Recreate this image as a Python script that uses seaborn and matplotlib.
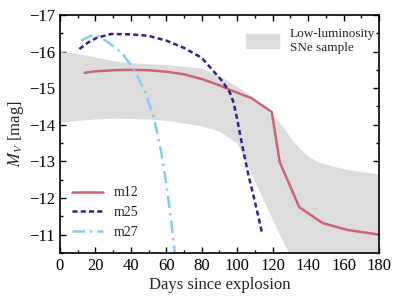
import numpy as np
import pandas as pd
import matplotlib
matplotlib.use("Agg")
import matplotlib.pyplot as plt
import seaborn as sns
from matplotlib.patches import Patch
from matplotlib.ticker import MultipleLocator

# light curves
m12_days = [14, 20, 30, 40, 50, 60, 70, 80, 90, 96, 108, 119.5, 124, 135, 148, 162, 180]
m12_mag = [-15.42, -15.46, -15.49, -15.5, -15.49, -15.45, -15.38, -15.25, -15.08, -14.95,
           -14.73, -14.35, -12.98, -11.75, -11.32, -11.13, -11.0]

m25_days = [11, 16, 21, 29, 40, 50, 60, 70, 80, 86, 92, 96, 98, 100, 103, 106, 110, 114]
m25_mag = [-16.07, -16.25, -16.38, -16.48, -16.47, -16.43, -16.3, -16.1, -15.83, -15.5,
           -15.17, -14.87, -14.6, -14.15, -13.4, -12.7, -11.9, -11.05]

m27_days = [12, 16, 20, 27, 35, 42, 48, 53, 57, 60, 63, 65]
m27_mag = [-16.3, -16.4, -16.47, -16.26, -15.96, -15.5, -14.9, -14.2, -13.3, -12.4, -11.3, -10.4]

# low-luminosity SNe band
band_days = [0, 10, 20, 30, 40, 50, 60, 70, 80, 90, 100, 106, 113, 120, 125, 130, 135, 140,
             145, 150, 160, 170, 180]
band_upper = [-16.0, -15.95, -15.85, -15.75, -15.7, -15.67, -15.64, -15.6, -15.55, -15.33,
              -15.05, -14.85, -14.55, -14.25, -14.0, -13.65, -13.36, -13.14, -13.0, -12.92,
              -12.8, -12.72, -12.66]
band_lower = [-14.05, -14.12, -14.16, -14.18, -14.17, -14.16, -14.12, -14.05, -13.97, -13.82,
              -13.5, -12.85, -12.14, -11.4, -10.9, -10.4, -10.0, -9.6, -9.5, -9.5, -9.5, -9.5, -9.5]

sns.set_style("ticks")
plt.rcParams["font.family"] = ["Liberation Serif", "DejaVu Serif"]
plt.rcParams["mathtext.fontset"] = "stix"
plt.rcParams["xtick.direction"] = "in"
plt.rcParams["ytick.direction"] = "in"

fig = plt.figure(figsize=(3.99, 2.99), dpi=100)
ax = fig.add_axes([0.150, 0.154, 0.800, 0.796])

ax.fill_between(band_days, band_upper, band_lower, color="#dddddd", lw=0)

df = pd.concat([
    pd.DataFrame({"day": m12_days, "mag": m12_mag, "model": "m12"}),
    pd.DataFrame({"day": m25_days, "mag": m25_mag, "model": "m25"}),
    pd.DataFrame({"day": m27_days, "mag": m27_mag, "model": "m27"}),
])
colors = {"m12": "#cc6677", "m25": "#332288", "m27": "#88ccee"}
styles = {"m12": "-", "m25": (0, (2, 1.3)), "m27": (0, (5, 2, 1, 2))}
for name, g in df.groupby("model"):
    sns.lineplot(data=g, x="day", y="mag", ax=ax, color=colors[name], lw=1.8,
                 linestyle=styles[name], sort=False, label=name)

ax.set_xlim(0, 180)
ax.set_ylim(-10.5, -17)
ax.xaxis.set_major_locator(MultipleLocator(20))
ax.xaxis.set_minor_locator(MultipleLocator(10))
ax.yaxis.set_major_locator(MultipleLocator(1))
ax.yaxis.set_minor_locator(MultipleLocator(0.5))
ax.tick_params(which="both", top=True, right=True, labelsize=12, width=1, colors="black")
ax.tick_params(which="major", length=4)
ax.tick_params(which="minor", length=2)
for s in ax.spines.values():
    s.set_linewidth(1.2)
    s.set_color("black")
ax.set_xlabel("Days since explosion", fontsize=12, labelpad=2)
ax.set_ylabel("$M_V$ [mag]", fontsize=12, labelpad=2)

handles, labels = ax.get_legend_handles_labels()
leg1 = ax.legend(handles, labels, loc="lower left", frameon=False, fontsize=10,
                 handlelength=2.2, bbox_to_anchor=(0.0, 0.005))
ax.add_artist(leg1)
ax.legend([Patch(color="#dddddd")], ["Low-luminosity\nSNe sample"], loc="upper right",
          frameon=False, fontsize=9.5, handlelength=2.5, handleheight=1.2,
          handletextpad=0.8, bbox_to_anchor=(1.025, 0.995))

fig.savefig("out.png", dpi=100)
